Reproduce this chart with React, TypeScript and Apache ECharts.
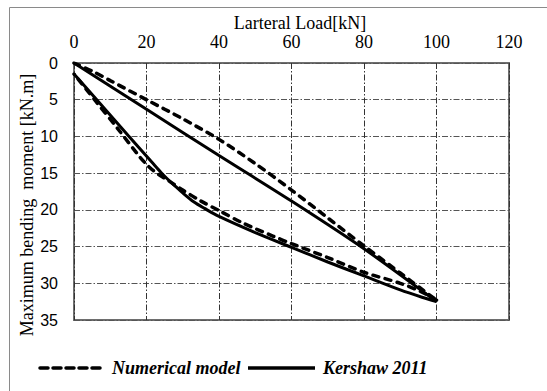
import React, { useEffect, useRef } from "react";
import * as echarts from "echarts";

// Numerical model: loading branch and unloading branch (load kN, moment kN.m)
const numLoadX = [0, 5, 10, 20, 30, 40, 50, 60, 70, 80, 90, 100];
const numLoadY = [0, 1.1, 2.4, 5.0, 7.6, 10.4, 13.7, 17.3, 21.1, 24.9, 28.6, 32.3];
const numUnloadX = [100, 96, 90, 80, 70, 60, 55, 46.6, 40, 35, 30, 26, 24, 22, 20, 18, 12, 6, 0];
const numUnloadY = [32.3, 31.2, 30.0, 28.5, 26.5, 24.6, 23.6, 21.8, 20.1, 18.8, 17.3, 16.0, 15.4, 14.7, 13.8, 12.7, 8.9, 5.2, 1.5];

// Kershaw 2011: loading branch and unloading branch
const kerLoadX = [0, 20, 40, 60, 80, 100];
const kerLoadY = [0, 6.3, 12.6, 18.8, 25.3, 32.5];
const kerUnloadX = [100, 96, 90, 80, 70, 60, 50, 40, 36, 33, 30, 28, 26, 24, 22, 15, 7, 0];
const kerUnloadY = [32.5, 31.9, 30.9, 29.0, 27.1, 25.1, 23.1, 20.9, 19.8, 18.9, 17.7, 16.8, 15.9, 14.9, 13.8, 9.9, 5.4, 1.5];

const seriesNames = ["Numerical model", "Kershaw 2011"];
const xTitle = "Larteral Load[kN]";
const yTitle = "Maximum bending  moment [kN.m]";

const SERIF = "Times New Roman";
const SANS = "Arial";

const zip = (xs: number[], ys: number[]) => xs.map((x, i) => [x, ys[i]]);

export default function App() {
  const ref = useRef<HTMLDivElement>(null);

  useEffect(() => {
    if (!ref.current) return;
    const chart = echarts.init(ref.current, null, { renderer: "svg" });
    const dash = [6, 6.5];

    const numStyle = { color: "#000", width: 3.5, type: dash, cap: "round" };
    const kerStyle = { color: "#000", width: 3, type: "solid" };

    const branch = (name: string, data: number[][], lineStyle: object) => ({
      name,
      type: "line",
      data,
      symbol: "none",
      smooth: 0.3,
      lineStyle,
    });

    chart.setOption({
      animation: false,
      backgroundColor: "#ffffff",
      grid: {
        left: 74,
        top: 63,
        right: 38,
        bottom: 71,
        show: true,
        borderColor: "#6e6e6e",
        borderWidth: 2,
      },
      xAxis: {
        type: "value",
        position: "top",
        min: 0,
        max: 120,
        interval: 20,
        axisLine: { show: false },
        axisTick: { show: false },
        axisLabel: { fontFamily: SERIF, fontSize: 18, color: "#000", margin: 12 },
        splitLine: { lineStyle: { color: "#333", type: [6, 2, 1.5, 2], width: 1 } },
      },
      yAxis: {
        type: "value",
        inverse: true,
        min: 0,
        max: 35,
        interval: 5,
        axisLine: { show: false },
        axisTick: { show: false },
        axisLabel: { fontFamily: SANS, fontSize: 16, color: "#000", margin: 16 },
        splitLine: { lineStyle: { color: "#555", type: [6, 2, 1.5, 2], width: 1 } },
      },
      series: [
        branch(seriesNames[0], zip(numLoadX, numLoadY), numStyle),
        branch(seriesNames[0], zip(numUnloadX, numUnloadY), numStyle),
        branch(seriesNames[1], zip(kerLoadX, kerLoadY), kerStyle),
        branch(seriesNames[1], zip(kerUnloadX, kerUnloadY), kerStyle),
      ],
      graphic: [
        {
          type: "rect",
          shape: { x: 9.5, y: 7.5, width: 600, height: 500 },
          style: { fill: "none", stroke: "#8a8a8a", lineWidth: 1 },
          silent: true,
        },
        {
          type: "text",
          x: 300,
          y: 23,
          style: {
            text: xTitle,
            fontFamily: SERIF,
            fontSize: 18,
            fill: "#000",
            align: "center",
            verticalAlign: "middle",
          },
        },
        {
          type: "text",
          x: 27,
          y: 205,
          rotation: Math.PI / 2,
          style: {
            text: yTitle,
            fontFamily: SERIF,
            fontSize: 18,
            fill: "#000",
            align: "center",
            verticalAlign: "middle",
          },
        },
        {
          type: "line",
          shape: { x1: 40, y1: 368, x2: 101, y2: 368 },
          style: { stroke: "#000", lineWidth: 3.5, lineDash: [8, 5], lineCap: "round" },
        },
        {
          type: "text",
          x: 112,
          y: 368,
          style: {
            text: seriesNames[0],
            fontFamily: SERIF,
            fontSize: 18,
            fontStyle: "italic",
            fontWeight: "bold",
            fill: "#000",
            align: "left",
            verticalAlign: "middle",
          },
        },
        {
          type: "line",
          shape: { x1: 248, y1: 368, x2: 315, y2: 368 },
          style: { stroke: "#000", lineWidth: 3.5 },
        },
        {
          type: "text",
          x: 323,
          y: 368,
          style: {
            text: seriesNames[1],
            fontFamily: SERIF,
            fontSize: 18,
            fontStyle: "italic",
            fontWeight: "bold",
            fill: "#000",
            align: "left",
            verticalAlign: "middle",
          },
        },
      ],
    });

    return () => chart.dispose();
  }, []);

  return (
    <div
      ref={ref}
      style={{ position: "absolute", left: 0, top: 0, width: 547, height: 391 }}
    />
  );
}
